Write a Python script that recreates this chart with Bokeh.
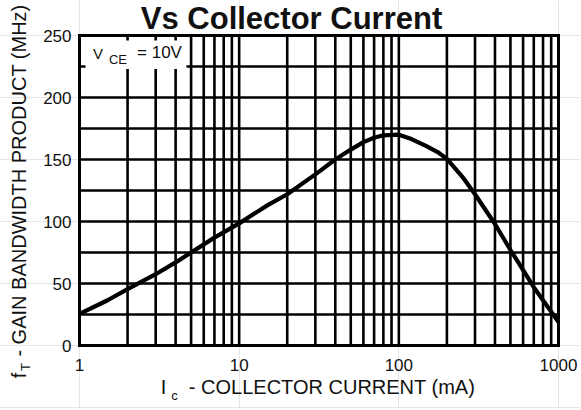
import math
from bokeh.plotting import figure
from bokeh.models import (Range1d, FixedTicker, Label, BoxAnnotation, ColumnDataSource,
                          LogAxis, LinearAxis)
from bokeh.embed import file_html
from bokeh.resources import INLINE

# ---- data ----
ic_ma = [1, 1.5, 2, 3, 4, 5, 7, 10, 15, 20, 30, 40, 50, 60, 70, 80, 100,
         120, 150, 175, 200, 250, 300, 400, 500, 560, 700, 1000]
ft_mhz = [25.5, 36.5, 45.5, 57.5, 67, 75, 87, 98.5, 113, 122, 138, 150, 158,
          164, 167.5, 169.5, 170, 166.5, 160.5, 156, 150.5, 136, 122, 98, 77, 67, 47, 19]
x_ticks = [1, 10, 100, 1000]
x_tick_labels = ["1", "10", "100", "1000"]
y_ticks = [0, 50, 100, 150, 200, 250]
x_grid = [2, 3, 4, 5, 6, 7, 8, 9, 10, 20, 30, 40, 50, 60, 70, 80, 90, 100,
          200, 300, 400, 500, 600, 700, 800, 900]
y_grid = [25, 50, 75, 100, 125, 150, 175, 200, 225]
X_MIN, X_MAX, Y_MIN, Y_MAX = 1, 1000, 0, 250

W, H = 580, 408
PL, PR, PT, PB = 79, 558, 35, 345          # plot box in canvas pixels
FONT = "Liberation Sans"
INK = "#111111"
BASE_SHIFT = 0.365                          # renderer places alphabetic baseline ~0.365em low

DEC = math.log10(X_MAX / X_MIN)


def px2x(px):
    return X_MIN * 10 ** (DEC * (px - PL) / (PR - PL))


def py2y(py):
    return Y_MIN + (Y_MAX - Y_MIN) * (PB - py) / (PB - PT)


# frame covers the whole canvas; the plot box is drawn inside it
p = figure(width=W, height=H, x_axis_type="log",
           x_axis_location=None, y_axis_location=None,
           x_range=Range1d(px2x(0), px2x(W)), y_range=Range1d(py2y(H), py2y(0)),
           output_backend="svg", toolbar_location=None, title_location=None,
           min_border=0)
p.background_fill_color = "white"
p.border_fill_color = "white"
p.outline_line_color = None

# grid
p.segment(x0=x_grid, x1=x_grid, y0=[Y_MIN] * len(x_grid), y1=[Y_MAX] * len(x_grid),
          line_color="black", line_width=2.6)
p.segment(x0=[X_MIN] * len(y_grid), x1=[X_MAX] * len(y_grid), y0=y_grid, y1=y_grid,
          line_color="black", line_width=2.6)

# curve
src = ColumnDataSource(dict(x=ic_ma, y=ft_mhz))
p.line("x", "y", source=src, line_color="black", line_width=4.2, line_join="round")

# plot border
p.quad(left=[X_MIN], right=[X_MAX], bottom=[Y_MIN], top=[Y_MAX],
       fill_color=None, line_color="black", line_width=3, line_join="miter")

# axes (tick labels only)
xa = LogAxis(fixed_location=Y_MIN, ticker=FixedTicker(ticks=x_ticks),
             major_label_overrides={t: l for t, l in zip(x_ticks, x_tick_labels)})
ya = LinearAxis(fixed_location=X_MIN, ticker=FixedTicker(ticks=y_ticks))
for ax in (xa, ya):
    ax.axis_line_color = None
    ax.major_tick_line_color = None
    ax.minor_tick_line_color = None
    ax.major_tick_in = 0
    ax.major_tick_out = 0
    ax.minor_tick_in = 0
    ax.minor_tick_out = 0
    ax.major_label_text_font = FONT
    ax.major_label_text_font_size = "17px"
    ax.major_label_text_color = INK
xa.major_label_standoff = 13
ya.major_label_standoff = 8
p.add_layout(xa, "below")
p.add_layout(ya, "left")

# white box behind the V_CE legend
p.add_layout(BoxAnnotation(left=px2x(85), right=px2x(186), top=py2y(40), bottom=py2y(68.5),
                           fill_color="white", fill_alpha=1, line_color=None))


def lab(text, px, py, size, align="left", rotated=False, bold=False):
    """px, py: wanted alphabetic-baseline anchor in canvas pixels."""
    shift = BASE_SHIFT * size
    if rotated:
        px -= shift
    else:
        py -= shift
    p.add_layout(Label(x=px2x(px), y=py2y(py), text=text, text_font=FONT,
                       text_font_size=f"{size}px", text_align=align,
                       text_baseline="alphabetic",
                       angle=math.pi / 2 if rotated else 0.0, text_color=INK,
                       text_font_style="bold" if bold else "normal"))


# legend text V_CE = 10V
lab("V", 97.5, 58.5, 15, "center")
lab("CE", 117.5, 64, 13, "center")
lab("= 10V", 159, 58.5, 17, "center")

# title
lab("Vs Collector Current", 291, 29, 31, "center", bold=True)

# x axis title
lab("I", 163, 394, 20, "center")
lab("c", 174, 400, 13, "center")
lab("- COLLECTOR CURRENT (mA)", 331.5, 394, 20, "center")

# y axis title (rotated)
lab("f", 26, 375, 20, "center", rotated=True)
lab("T", 30, 366.5, 13, "center", rotated=True)
lab("- GAIN BANDWIDTH PRODUCT (MHz)", 26, 180, 20, "center", rotated=True)

open("out.html", "w").write(file_html(p, INLINE))
